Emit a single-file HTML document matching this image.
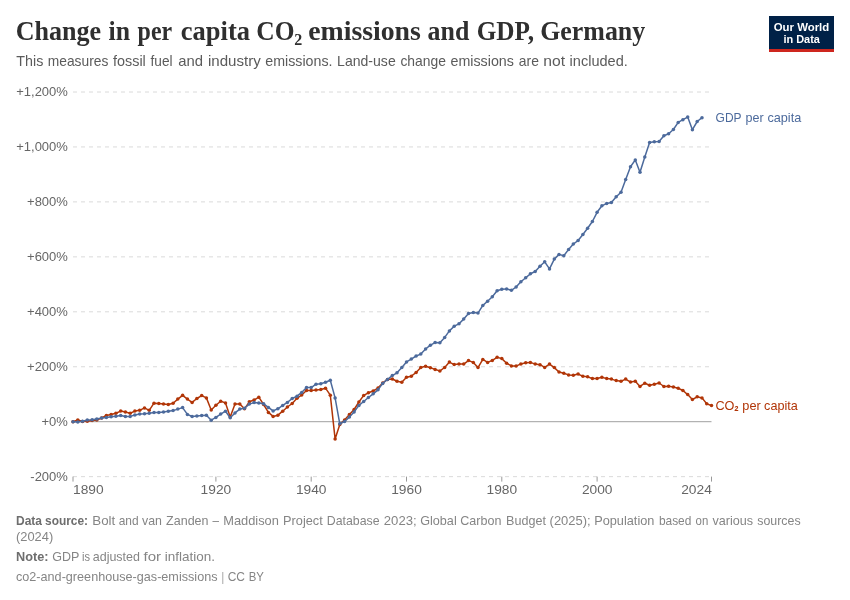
<!DOCTYPE html>
<html><head><meta charset="utf-8"><title>Change in per capita CO2 emissions and GDP, Germany</title>
<style>
html,body{margin:0;padding:0;background:#fff;}
body{width:850px;height:600px;overflow:hidden;position:relative;font-family:"Liberation Sans",sans-serif;}
svg{position:absolute;left:0;top:0;}
svg text{font-family:"Liberation Sans",sans-serif;}
svg text.title{font-family:"Liberation Serif",serif;font-weight:bold;font-size:28px;fill:#2f2f2f;}
.sub{font-size:14.8px;fill:#5b5b5b;}
.ax text{font-size:13px;fill:#666;}
.lg{font-size:13.5px;fill:#4c6a9c;}
.lc{font-size:13.5px;fill:#b13507;}
.foot{font-size:12.2px;fill:#858585;}
.foot .b{font-weight:bold;fill:#6e6e6e;}
</style></head><body>
<svg width="850" height="600" viewBox="0 0 850 600">
<rect width="850" height="600" fill="#fff"/>
<text class="title" y="40.1"><tspan x="15.7" textLength="85.4" lengthAdjust="spacingAndGlyphs">Change</tspan> <tspan x="108.6" textLength="21.5" lengthAdjust="spacingAndGlyphs">in</tspan> <tspan x="137.6" textLength="34.1" lengthAdjust="spacingAndGlyphs">per</tspan> <tspan x="180.8" textLength="69.2" lengthAdjust="spacingAndGlyphs">capita</tspan> <tspan x="256.3" textLength="38.2" lengthAdjust="spacingAndGlyphs">CO</tspan><tspan x="294.2" textLength="8.0" lengthAdjust="spacingAndGlyphs" dy="-0.8">₂</tspan> <tspan x="308.2" textLength="112.7" lengthAdjust="spacingAndGlyphs" dy="0.8">emissions</tspan> <tspan x="427.6" textLength="41.7" lengthAdjust="spacingAndGlyphs">and</tspan> <tspan x="476.7" textLength="57.3" lengthAdjust="spacingAndGlyphs">GDP,</tspan> <tspan x="540.2" textLength="105.0" lengthAdjust="spacingAndGlyphs">Germany</tspan></text>
<text class="sub" y="66.2"><tspan x="16.3" textLength="27.0" lengthAdjust="spacingAndGlyphs">This</tspan> <tspan x="47.8" textLength="60.5" lengthAdjust="spacingAndGlyphs">measures</tspan> <tspan x="113.0" textLength="32.8" lengthAdjust="spacingAndGlyphs">fossil</tspan> <tspan x="150.5" textLength="22.0" lengthAdjust="spacingAndGlyphs">fuel</tspan> <tspan x="178.3" textLength="24.8" lengthAdjust="spacingAndGlyphs">and</tspan> <tspan x="208.0" textLength="52.8" lengthAdjust="spacingAndGlyphs">industry</tspan> <tspan x="265.3" textLength="67.2" lengthAdjust="spacingAndGlyphs">emissions.</tspan> <tspan x="337.1" textLength="58.6" lengthAdjust="spacingAndGlyphs">Land-use</tspan> <tspan x="400.4" textLength="45.5" lengthAdjust="spacingAndGlyphs">change</tspan> <tspan x="450.5" textLength="63.4" lengthAdjust="spacingAndGlyphs">emissions</tspan> <tspan x="518.8" textLength="20.1" lengthAdjust="spacingAndGlyphs">are</tspan> <tspan x="543.3" textLength="21.8" lengthAdjust="spacingAndGlyphs">not</tspan> <tspan x="569.6" textLength="58.2" lengthAdjust="spacingAndGlyphs">included.</tspan></text>
<g id="logo">
<rect x="769" y="16" width="65" height="36" fill="#002147"/>
<rect x="769" y="49" width="65" height="3" fill="#ce261e"/>
<text x="801.5" y="30.6" text-anchor="middle" font-size="11.6" font-weight="bold" fill="#fff" textLength="55.5" lengthAdjust="spacingAndGlyphs">Our World</text>
<text x="801.7" y="42.8" text-anchor="middle" font-size="11.6" font-weight="bold" fill="#fff" textLength="36.5" lengthAdjust="spacingAndGlyphs">in Data</text>
</g>
<g class="ax">
<line x1="73" x2="711.5" y1="92.00" y2="92.00" stroke="#dadada" stroke-dasharray="4,4" stroke-width="1"/>
<line x1="73" x2="711.5" y1="146.95" y2="146.95" stroke="#dadada" stroke-dasharray="4,4" stroke-width="1"/>
<line x1="73" x2="711.5" y1="201.90" y2="201.90" stroke="#dadada" stroke-dasharray="4,4" stroke-width="1"/>
<line x1="73" x2="711.5" y1="256.85" y2="256.85" stroke="#dadada" stroke-dasharray="4,4" stroke-width="1"/>
<line x1="73" x2="711.5" y1="311.80" y2="311.80" stroke="#dadada" stroke-dasharray="4,4" stroke-width="1"/>
<line x1="73" x2="711.5" y1="366.75" y2="366.75" stroke="#dadada" stroke-dasharray="4,4" stroke-width="1"/>
<line x1="73" x2="711.5" y1="476.65" y2="476.65" stroke="#dadada" stroke-dasharray="4,4" stroke-width="1"/>

<line x1="73" x2="711.5" y1="421.7" y2="421.7" stroke="#a1a1a1" stroke-width="1"/>
<text x="67.9" y="96.3" text-anchor="end">+1,200%</text>
<text x="67.9" y="151.2" text-anchor="end">+1,000%</text>
<text x="67.9" y="206.2" text-anchor="end">+800%</text>
<text x="67.9" y="261.2" text-anchor="end">+600%</text>
<text x="67.9" y="316.1" text-anchor="end">+400%</text>
<text x="67.9" y="371.1" text-anchor="end">+200%</text>
<text x="67.9" y="480.9" text-anchor="end">-200%</text>
<text x="67.9" y="426.0" text-anchor="end">+0%</text>

<line x1="73.0" x2="73.0" y1="476.6" y2="481.6" stroke="#999" stroke-width="1"/><text x="73.0" y="494.4" font-size="13.4" text-anchor="start" textLength="30.6" lengthAdjust="spacingAndGlyphs">1890</text>
<line x1="215.9" x2="215.9" y1="476.6" y2="481.6" stroke="#999" stroke-width="1"/><text x="200.6" y="494.4" font-size="13.4" textLength="30.6" lengthAdjust="spacingAndGlyphs">1920</text>
<line x1="311.2" x2="311.2" y1="476.6" y2="481.6" stroke="#999" stroke-width="1"/><text x="295.9" y="494.4" font-size="13.4" textLength="30.6" lengthAdjust="spacingAndGlyphs">1940</text>
<line x1="406.5" x2="406.5" y1="476.6" y2="481.6" stroke="#999" stroke-width="1"/><text x="391.2" y="494.4" font-size="13.4" textLength="30.6" lengthAdjust="spacingAndGlyphs">1960</text>
<line x1="501.8" x2="501.8" y1="476.6" y2="481.6" stroke="#999" stroke-width="1"/><text x="486.5" y="494.4" font-size="13.4" textLength="30.6" lengthAdjust="spacingAndGlyphs">1980</text>
<line x1="597.1" x2="597.1" y1="476.6" y2="481.6" stroke="#999" stroke-width="1"/><text x="581.9" y="494.4" font-size="13.4" textLength="30.6" lengthAdjust="spacingAndGlyphs">2000</text>
<line x1="711.5" x2="711.5" y1="476.6" y2="481.6" stroke="#999" stroke-width="1"/><text x="681.2" y="494.4" font-size="13.4" textLength="30.6" lengthAdjust="spacingAndGlyphs">2024</text>

</g>
<g fill="none" stroke-width="1.5" stroke-linejoin="round">
<path d="M73.0,421.7 L77.8,420.0 L82.5,421.5 L87.3,421.2 L92.1,420.6 L96.8,420.0 L101.6,418.0 L106.4,415.4 L111.1,414.4 L115.9,413.2 L120.7,411.1 L125.4,412.1 L130.2,413.2 L134.9,411.1 L139.7,410.3 L144.5,407.9 L149.2,410.3 L154.0,403.2 L158.8,403.5 L163.5,404.0 L168.3,404.5 L173.1,403.3 L177.8,399.1 L182.6,395.3 L187.4,399.1 L192.1,402.4 L196.9,398.5 L201.7,395.6 L206.4,397.9 L211.2,410.0 L215.9,405.3 L220.7,401.2 L225.5,402.9 L230.2,417.0 L235.0,404.1 L239.8,403.9 L244.5,408.8 L249.3,401.8 L254.1,400.0 L258.8,397.2 L263.6,404.5 L268.4,412.4 L273.1,416.4 L277.9,415.2 L282.7,411.2 L287.4,407.0 L292.2,403.5 L297.0,398.3 L301.7,395.0 L306.5,390.5 L311.2,390.6 L316.0,390.1 L320.8,389.5 L325.5,388.2 L330.3,395.2 L335.1,438.9 L339.8,424.4 L344.6,419.9 L349.4,414.4 L354.1,409.5 L358.9,402.0 L363.7,395.4 L368.4,392.8 L373.2,391.0 L378.0,388.1 L382.7,383.0 L387.5,379.4 L392.3,379.0 L397.0,381.2 L401.8,382.2 L406.5,377.2 L411.3,376.2 L416.1,372.5 L420.8,367.5 L425.6,366.2 L430.4,367.8 L435.1,369.4 L439.9,371.0 L444.7,367.4 L449.4,362.1 L454.2,364.6 L459.0,363.9 L463.7,364.1 L468.5,360.6 L473.3,362.4 L478.0,367.6 L482.8,359.4 L487.6,362.4 L492.3,360.4 L497.1,357.3 L501.8,358.6 L506.6,363.2 L511.4,365.9 L516.1,366.1 L520.9,363.9 L525.7,362.7 L530.4,362.4 L535.2,364.1 L540.0,364.7 L544.7,367.4 L549.5,364.1 L554.3,367.6 L559.0,372.0 L563.8,373.3 L568.6,374.9 L573.3,375.3 L578.1,374.1 L582.9,376.2 L587.6,376.7 L592.4,378.6 L597.1,378.5 L601.9,377.3 L606.7,378.6 L611.4,379.1 L616.2,380.6 L621.0,381.2 L625.7,379.1 L630.5,382.1 L635.3,381.2 L640.0,386.4 L644.8,383.2 L649.6,385.2 L654.3,384.2 L659.1,383.0 L663.9,386.5 L668.6,386.3 L673.4,387.0 L678.2,388.3 L682.9,390.5 L687.7,394.6 L692.4,399.5 L697.2,396.8 L702.0,397.9 L706.7,403.8 L711.5,405.6" stroke="#b13507"/>
</g>
<g fill="#b13507"><circle cx="73.0" cy="421.7" r="1.75"/><circle cx="77.8" cy="420.0" r="1.75"/><circle cx="82.5" cy="421.5" r="1.75"/><circle cx="87.3" cy="421.2" r="1.75"/><circle cx="92.1" cy="420.6" r="1.75"/><circle cx="96.8" cy="420.0" r="1.75"/><circle cx="101.6" cy="418.0" r="1.75"/><circle cx="106.4" cy="415.4" r="1.75"/><circle cx="111.1" cy="414.4" r="1.75"/><circle cx="115.9" cy="413.2" r="1.75"/><circle cx="120.7" cy="411.1" r="1.75"/><circle cx="125.4" cy="412.1" r="1.75"/><circle cx="130.2" cy="413.2" r="1.75"/><circle cx="134.9" cy="411.1" r="1.75"/><circle cx="139.7" cy="410.3" r="1.75"/><circle cx="144.5" cy="407.9" r="1.75"/><circle cx="149.2" cy="410.3" r="1.75"/><circle cx="154.0" cy="403.2" r="1.75"/><circle cx="158.8" cy="403.5" r="1.75"/><circle cx="163.5" cy="404.0" r="1.75"/><circle cx="168.3" cy="404.5" r="1.75"/><circle cx="173.1" cy="403.3" r="1.75"/><circle cx="177.8" cy="399.1" r="1.75"/><circle cx="182.6" cy="395.3" r="1.75"/><circle cx="187.4" cy="399.1" r="1.75"/><circle cx="192.1" cy="402.4" r="1.75"/><circle cx="196.9" cy="398.5" r="1.75"/><circle cx="201.7" cy="395.6" r="1.75"/><circle cx="206.4" cy="397.9" r="1.75"/><circle cx="211.2" cy="410.0" r="1.75"/><circle cx="215.9" cy="405.3" r="1.75"/><circle cx="220.7" cy="401.2" r="1.75"/><circle cx="225.5" cy="402.9" r="1.75"/><circle cx="230.2" cy="417.0" r="1.75"/><circle cx="235.0" cy="404.1" r="1.75"/><circle cx="239.8" cy="403.9" r="1.75"/><circle cx="244.5" cy="408.8" r="1.75"/><circle cx="249.3" cy="401.8" r="1.75"/><circle cx="254.1" cy="400.0" r="1.75"/><circle cx="258.8" cy="397.2" r="1.75"/><circle cx="263.6" cy="404.5" r="1.75"/><circle cx="268.4" cy="412.4" r="1.75"/><circle cx="273.1" cy="416.4" r="1.75"/><circle cx="277.9" cy="415.2" r="1.75"/><circle cx="282.7" cy="411.2" r="1.75"/><circle cx="287.4" cy="407.0" r="1.75"/><circle cx="292.2" cy="403.5" r="1.75"/><circle cx="297.0" cy="398.3" r="1.75"/><circle cx="301.7" cy="395.0" r="1.75"/><circle cx="306.5" cy="390.5" r="1.75"/><circle cx="311.2" cy="390.6" r="1.75"/><circle cx="316.0" cy="390.1" r="1.75"/><circle cx="320.8" cy="389.5" r="1.75"/><circle cx="325.5" cy="388.2" r="1.75"/><circle cx="330.3" cy="395.2" r="1.75"/><circle cx="335.1" cy="438.9" r="1.75"/><circle cx="339.8" cy="424.4" r="1.75"/><circle cx="344.6" cy="419.9" r="1.75"/><circle cx="349.4" cy="414.4" r="1.75"/><circle cx="354.1" cy="409.5" r="1.75"/><circle cx="358.9" cy="402.0" r="1.75"/><circle cx="363.7" cy="395.4" r="1.75"/><circle cx="368.4" cy="392.8" r="1.75"/><circle cx="373.2" cy="391.0" r="1.75"/><circle cx="378.0" cy="388.1" r="1.75"/><circle cx="382.7" cy="383.0" r="1.75"/><circle cx="387.5" cy="379.4" r="1.75"/><circle cx="392.3" cy="379.0" r="1.75"/><circle cx="397.0" cy="381.2" r="1.75"/><circle cx="401.8" cy="382.2" r="1.75"/><circle cx="406.5" cy="377.2" r="1.75"/><circle cx="411.3" cy="376.2" r="1.75"/><circle cx="416.1" cy="372.5" r="1.75"/><circle cx="420.8" cy="367.5" r="1.75"/><circle cx="425.6" cy="366.2" r="1.75"/><circle cx="430.4" cy="367.8" r="1.75"/><circle cx="435.1" cy="369.4" r="1.75"/><circle cx="439.9" cy="371.0" r="1.75"/><circle cx="444.7" cy="367.4" r="1.75"/><circle cx="449.4" cy="362.1" r="1.75"/><circle cx="454.2" cy="364.6" r="1.75"/><circle cx="459.0" cy="363.9" r="1.75"/><circle cx="463.7" cy="364.1" r="1.75"/><circle cx="468.5" cy="360.6" r="1.75"/><circle cx="473.3" cy="362.4" r="1.75"/><circle cx="478.0" cy="367.6" r="1.75"/><circle cx="482.8" cy="359.4" r="1.75"/><circle cx="487.6" cy="362.4" r="1.75"/><circle cx="492.3" cy="360.4" r="1.75"/><circle cx="497.1" cy="357.3" r="1.75"/><circle cx="501.8" cy="358.6" r="1.75"/><circle cx="506.6" cy="363.2" r="1.75"/><circle cx="511.4" cy="365.9" r="1.75"/><circle cx="516.1" cy="366.1" r="1.75"/><circle cx="520.9" cy="363.9" r="1.75"/><circle cx="525.7" cy="362.7" r="1.75"/><circle cx="530.4" cy="362.4" r="1.75"/><circle cx="535.2" cy="364.1" r="1.75"/><circle cx="540.0" cy="364.7" r="1.75"/><circle cx="544.7" cy="367.4" r="1.75"/><circle cx="549.5" cy="364.1" r="1.75"/><circle cx="554.3" cy="367.6" r="1.75"/><circle cx="559.0" cy="372.0" r="1.75"/><circle cx="563.8" cy="373.3" r="1.75"/><circle cx="568.6" cy="374.9" r="1.75"/><circle cx="573.3" cy="375.3" r="1.75"/><circle cx="578.1" cy="374.1" r="1.75"/><circle cx="582.9" cy="376.2" r="1.75"/><circle cx="587.6" cy="376.7" r="1.75"/><circle cx="592.4" cy="378.6" r="1.75"/><circle cx="597.1" cy="378.5" r="1.75"/><circle cx="601.9" cy="377.3" r="1.75"/><circle cx="606.7" cy="378.6" r="1.75"/><circle cx="611.4" cy="379.1" r="1.75"/><circle cx="616.2" cy="380.6" r="1.75"/><circle cx="621.0" cy="381.2" r="1.75"/><circle cx="625.7" cy="379.1" r="1.75"/><circle cx="630.5" cy="382.1" r="1.75"/><circle cx="635.3" cy="381.2" r="1.75"/><circle cx="640.0" cy="386.4" r="1.75"/><circle cx="644.8" cy="383.2" r="1.75"/><circle cx="649.6" cy="385.2" r="1.75"/><circle cx="654.3" cy="384.2" r="1.75"/><circle cx="659.1" cy="383.0" r="1.75"/><circle cx="663.9" cy="386.5" r="1.75"/><circle cx="668.6" cy="386.3" r="1.75"/><circle cx="673.4" cy="387.0" r="1.75"/><circle cx="678.2" cy="388.3" r="1.75"/><circle cx="682.9" cy="390.5" r="1.75"/><circle cx="687.7" cy="394.6" r="1.75"/><circle cx="692.4" cy="399.5" r="1.75"/><circle cx="697.2" cy="396.8" r="1.75"/><circle cx="702.0" cy="397.9" r="1.75"/><circle cx="706.7" cy="403.8" r="1.75"/><circle cx="711.5" cy="405.6" r="1.75"/></g>
<g fill="none" stroke-width="1.5" stroke-linejoin="round">
<path d="M73.0,421.7 L77.8,421.9 L82.5,421.2 L87.3,420.1 L92.1,419.7 L96.8,418.9 L101.6,418.1 L106.4,417.4 L111.1,416.8 L115.9,416.2 L120.7,415.4 L125.4,416.5 L130.2,416.4 L134.9,415.0 L139.7,414.1 L144.5,413.7 L149.2,413.2 L154.0,412.5 L158.8,412.4 L163.5,412.0 L168.3,411.2 L173.1,410.6 L177.8,409.1 L182.6,407.6 L187.4,414.4 L192.1,416.5 L196.9,415.9 L201.7,415.5 L206.4,415.3 L211.2,420.2 L215.9,417.4 L220.7,414.1 L225.5,411.2 L230.2,417.8 L235.0,412.9 L239.8,409.1 L244.5,408.2 L249.3,404.1 L254.1,402.6 L258.8,403.1 L263.6,403.8 L268.4,407.4 L273.1,410.9 L277.9,408.8 L282.7,405.4 L287.4,402.4 L292.2,398.5 L297.0,396.2 L301.7,392.4 L306.5,387.4 L311.2,387.6 L316.0,384.2 L320.8,383.8 L325.5,382.3 L330.3,380.3 L335.1,397.9 L339.8,423.8 L344.6,421.5 L349.4,417.1 L354.1,412.0 L358.9,405.4 L363.7,401.5 L368.4,397.5 L373.2,393.8 L378.0,389.8 L382.7,383.4 L387.5,379.4 L392.3,375.6 L397.0,372.8 L401.8,367.5 L406.5,361.9 L411.3,359.1 L416.1,356.0 L420.8,354.1 L425.6,349.0 L430.4,345.2 L435.1,342.6 L439.9,342.7 L444.7,337.4 L449.4,330.9 L454.2,326.2 L459.0,323.8 L463.7,319.1 L468.5,313.6 L473.3,312.4 L478.0,313.1 L482.8,305.4 L487.6,301.2 L492.3,296.8 L497.1,290.8 L501.8,289.2 L506.6,288.9 L511.4,290.3 L516.1,287.0 L520.9,281.8 L525.7,277.7 L530.4,273.8 L535.2,271.5 L540.0,266.2 L544.7,261.8 L549.5,268.9 L554.3,259.1 L559.0,254.4 L563.8,255.8 L568.6,249.4 L573.3,244.1 L578.1,240.5 L582.9,234.5 L587.6,228.3 L592.4,221.5 L597.1,212.3 L601.9,205.8 L606.7,203.4 L611.4,202.6 L616.2,196.8 L621.0,192.3 L625.7,179.4 L630.5,166.8 L635.3,159.9 L640.0,172.3 L644.8,157.1 L649.6,142.4 L654.3,141.8 L659.1,141.5 L663.9,135.8 L668.6,133.8 L673.4,129.5 L678.2,122.4 L682.9,119.7 L687.7,117.1 L692.4,129.7 L697.2,121.5 L702.0,117.7" stroke="#4c6a9c"/>
</g>
<g fill="#4c6a9c"><circle cx="73.0" cy="421.7" r="1.75"/><circle cx="77.8" cy="421.9" r="1.75"/><circle cx="82.5" cy="421.2" r="1.75"/><circle cx="87.3" cy="420.1" r="1.75"/><circle cx="92.1" cy="419.7" r="1.75"/><circle cx="96.8" cy="418.9" r="1.75"/><circle cx="101.6" cy="418.1" r="1.75"/><circle cx="106.4" cy="417.4" r="1.75"/><circle cx="111.1" cy="416.8" r="1.75"/><circle cx="115.9" cy="416.2" r="1.75"/><circle cx="120.7" cy="415.4" r="1.75"/><circle cx="125.4" cy="416.5" r="1.75"/><circle cx="130.2" cy="416.4" r="1.75"/><circle cx="134.9" cy="415.0" r="1.75"/><circle cx="139.7" cy="414.1" r="1.75"/><circle cx="144.5" cy="413.7" r="1.75"/><circle cx="149.2" cy="413.2" r="1.75"/><circle cx="154.0" cy="412.5" r="1.75"/><circle cx="158.8" cy="412.4" r="1.75"/><circle cx="163.5" cy="412.0" r="1.75"/><circle cx="168.3" cy="411.2" r="1.75"/><circle cx="173.1" cy="410.6" r="1.75"/><circle cx="177.8" cy="409.1" r="1.75"/><circle cx="182.6" cy="407.6" r="1.75"/><circle cx="187.4" cy="414.4" r="1.75"/><circle cx="192.1" cy="416.5" r="1.75"/><circle cx="196.9" cy="415.9" r="1.75"/><circle cx="201.7" cy="415.5" r="1.75"/><circle cx="206.4" cy="415.3" r="1.75"/><circle cx="211.2" cy="420.2" r="1.75"/><circle cx="215.9" cy="417.4" r="1.75"/><circle cx="220.7" cy="414.1" r="1.75"/><circle cx="225.5" cy="411.2" r="1.75"/><circle cx="230.2" cy="417.8" r="1.75"/><circle cx="235.0" cy="412.9" r="1.75"/><circle cx="239.8" cy="409.1" r="1.75"/><circle cx="244.5" cy="408.2" r="1.75"/><circle cx="249.3" cy="404.1" r="1.75"/><circle cx="254.1" cy="402.6" r="1.75"/><circle cx="258.8" cy="403.1" r="1.75"/><circle cx="263.6" cy="403.8" r="1.75"/><circle cx="268.4" cy="407.4" r="1.75"/><circle cx="273.1" cy="410.9" r="1.75"/><circle cx="277.9" cy="408.8" r="1.75"/><circle cx="282.7" cy="405.4" r="1.75"/><circle cx="287.4" cy="402.4" r="1.75"/><circle cx="292.2" cy="398.5" r="1.75"/><circle cx="297.0" cy="396.2" r="1.75"/><circle cx="301.7" cy="392.4" r="1.75"/><circle cx="306.5" cy="387.4" r="1.75"/><circle cx="311.2" cy="387.6" r="1.75"/><circle cx="316.0" cy="384.2" r="1.75"/><circle cx="320.8" cy="383.8" r="1.75"/><circle cx="325.5" cy="382.3" r="1.75"/><circle cx="330.3" cy="380.3" r="1.75"/><circle cx="335.1" cy="397.9" r="1.75"/><circle cx="339.8" cy="423.8" r="1.75"/><circle cx="344.6" cy="421.5" r="1.75"/><circle cx="349.4" cy="417.1" r="1.75"/><circle cx="354.1" cy="412.0" r="1.75"/><circle cx="358.9" cy="405.4" r="1.75"/><circle cx="363.7" cy="401.5" r="1.75"/><circle cx="368.4" cy="397.5" r="1.75"/><circle cx="373.2" cy="393.8" r="1.75"/><circle cx="378.0" cy="389.8" r="1.75"/><circle cx="382.7" cy="383.4" r="1.75"/><circle cx="387.5" cy="379.4" r="1.75"/><circle cx="392.3" cy="375.6" r="1.75"/><circle cx="397.0" cy="372.8" r="1.75"/><circle cx="401.8" cy="367.5" r="1.75"/><circle cx="406.5" cy="361.9" r="1.75"/><circle cx="411.3" cy="359.1" r="1.75"/><circle cx="416.1" cy="356.0" r="1.75"/><circle cx="420.8" cy="354.1" r="1.75"/><circle cx="425.6" cy="349.0" r="1.75"/><circle cx="430.4" cy="345.2" r="1.75"/><circle cx="435.1" cy="342.6" r="1.75"/><circle cx="439.9" cy="342.7" r="1.75"/><circle cx="444.7" cy="337.4" r="1.75"/><circle cx="449.4" cy="330.9" r="1.75"/><circle cx="454.2" cy="326.2" r="1.75"/><circle cx="459.0" cy="323.8" r="1.75"/><circle cx="463.7" cy="319.1" r="1.75"/><circle cx="468.5" cy="313.6" r="1.75"/><circle cx="473.3" cy="312.4" r="1.75"/><circle cx="478.0" cy="313.1" r="1.75"/><circle cx="482.8" cy="305.4" r="1.75"/><circle cx="487.6" cy="301.2" r="1.75"/><circle cx="492.3" cy="296.8" r="1.75"/><circle cx="497.1" cy="290.8" r="1.75"/><circle cx="501.8" cy="289.2" r="1.75"/><circle cx="506.6" cy="288.9" r="1.75"/><circle cx="511.4" cy="290.3" r="1.75"/><circle cx="516.1" cy="287.0" r="1.75"/><circle cx="520.9" cy="281.8" r="1.75"/><circle cx="525.7" cy="277.7" r="1.75"/><circle cx="530.4" cy="273.8" r="1.75"/><circle cx="535.2" cy="271.5" r="1.75"/><circle cx="540.0" cy="266.2" r="1.75"/><circle cx="544.7" cy="261.8" r="1.75"/><circle cx="549.5" cy="268.9" r="1.75"/><circle cx="554.3" cy="259.1" r="1.75"/><circle cx="559.0" cy="254.4" r="1.75"/><circle cx="563.8" cy="255.8" r="1.75"/><circle cx="568.6" cy="249.4" r="1.75"/><circle cx="573.3" cy="244.1" r="1.75"/><circle cx="578.1" cy="240.5" r="1.75"/><circle cx="582.9" cy="234.5" r="1.75"/><circle cx="587.6" cy="228.3" r="1.75"/><circle cx="592.4" cy="221.5" r="1.75"/><circle cx="597.1" cy="212.3" r="1.75"/><circle cx="601.9" cy="205.8" r="1.75"/><circle cx="606.7" cy="203.4" r="1.75"/><circle cx="611.4" cy="202.6" r="1.75"/><circle cx="616.2" cy="196.8" r="1.75"/><circle cx="621.0" cy="192.3" r="1.75"/><circle cx="625.7" cy="179.4" r="1.75"/><circle cx="630.5" cy="166.8" r="1.75"/><circle cx="635.3" cy="159.9" r="1.75"/><circle cx="640.0" cy="172.3" r="1.75"/><circle cx="644.8" cy="157.1" r="1.75"/><circle cx="649.6" cy="142.4" r="1.75"/><circle cx="654.3" cy="141.8" r="1.75"/><circle cx="659.1" cy="141.5" r="1.75"/><circle cx="663.9" cy="135.8" r="1.75"/><circle cx="668.6" cy="133.8" r="1.75"/><circle cx="673.4" cy="129.5" r="1.75"/><circle cx="678.2" cy="122.4" r="1.75"/><circle cx="682.9" cy="119.7" r="1.75"/><circle cx="687.7" cy="117.1" r="1.75"/><circle cx="692.4" cy="129.7" r="1.75"/><circle cx="697.2" cy="121.5" r="1.75"/><circle cx="702.0" cy="117.7" r="1.75"/></g>
<text class="lg" y="122.3"><tspan x="715.6" textLength="25.7" lengthAdjust="spacingAndGlyphs">GDP</tspan> <tspan x="745.6" textLength="18.1" lengthAdjust="spacingAndGlyphs">per</tspan> <tspan x="767.4" textLength="33.9" lengthAdjust="spacingAndGlyphs">capita</tspan></text>
<text class="lc" y="410.3"><tspan x="715.4" textLength="19.0" lengthAdjust="spacingAndGlyphs">CO</tspan><tspan x="734.1" textLength="4.8" lengthAdjust="spacingAndGlyphs" font-weight="bold" font-size="15.5" dy="0.6">₂</tspan> <tspan x="742.3" textLength="18.4" lengthAdjust="spacingAndGlyphs" dy="-0.6">per</tspan> <tspan x="764.1" textLength="33.7" lengthAdjust="spacingAndGlyphs">capita</tspan></text>
<text class="foot" y="524.8"><tspan x="16.0" textLength="26.0" lengthAdjust="spacingAndGlyphs" class="b">Data</tspan> <tspan x="45.0" textLength="43.1" lengthAdjust="spacingAndGlyphs" class="b">source:</tspan> <tspan x="92.3" textLength="23.0" lengthAdjust="spacingAndGlyphs">Bolt</tspan> <tspan x="118.7" textLength="19.9" lengthAdjust="spacingAndGlyphs">and</tspan> <tspan x="142.0" textLength="19.9" lengthAdjust="spacingAndGlyphs">van</tspan> <tspan x="166.1" textLength="42.4" lengthAdjust="spacingAndGlyphs">Zanden</tspan> <tspan x="212.5" textLength="6.5" lengthAdjust="spacingAndGlyphs">–</tspan> <tspan x="223.2" textLength="55.7" lengthAdjust="spacingAndGlyphs">Maddison</tspan> <tspan x="283.1" textLength="39.6" lengthAdjust="spacingAndGlyphs">Project</tspan> <tspan x="326.8" textLength="52.8" lengthAdjust="spacingAndGlyphs">Database</tspan> <tspan x="383.8" textLength="32.8" lengthAdjust="spacingAndGlyphs">2023;</tspan> <tspan x="420.2" textLength="36.5" lengthAdjust="spacingAndGlyphs">Global</tspan> <tspan x="460.3" textLength="41.1" lengthAdjust="spacingAndGlyphs">Carbon</tspan> <tspan x="506.1" textLength="39.8" lengthAdjust="spacingAndGlyphs">Budget</tspan> <tspan x="549.6" textLength="41.1" lengthAdjust="spacingAndGlyphs">(2025);</tspan> <tspan x="594.2" textLength="60.2" lengthAdjust="spacingAndGlyphs">Population</tspan> <tspan x="658.9" textLength="32.5" lengthAdjust="spacingAndGlyphs">based</tspan> <tspan x="695.6" textLength="12.7" lengthAdjust="spacingAndGlyphs">on</tspan> <tspan x="712.4" textLength="40.6" lengthAdjust="spacingAndGlyphs">various</tspan> <tspan x="757.2" textLength="43.4" lengthAdjust="spacingAndGlyphs">sources</tspan></text>
<text class="foot" y="541"><tspan x="16.0" textLength="37.2" lengthAdjust="spacingAndGlyphs">(2024)</tspan></text>
<text class="foot" y="560.6"><tspan x="16.0" textLength="32.5" lengthAdjust="spacingAndGlyphs" class="b">Note:</tspan> <tspan x="52.2" textLength="26.9" lengthAdjust="spacingAndGlyphs">GDP</tspan> <tspan x="82.0" textLength="8.0" lengthAdjust="spacingAndGlyphs">is</tspan> <tspan x="92.8" textLength="47.1" lengthAdjust="spacingAndGlyphs">adjusted</tspan> <tspan x="143.5" textLength="17.6" lengthAdjust="spacingAndGlyphs">for</tspan> <tspan x="164.8" textLength="50.2" lengthAdjust="spacingAndGlyphs">inflation.</tspan></text>
<text class="foot" y="580.5"><tspan x="16.0" textLength="201.5" lengthAdjust="spacingAndGlyphs">co2-and-greenhouse-gas-emissions</tspan> <tspan x="221.7" textLength="2.2" lengthAdjust="spacingAndGlyphs">|</tspan> <tspan x="227.7" textLength="17.3" lengthAdjust="spacingAndGlyphs">CC</tspan> <tspan x="248.7" textLength="15.2" lengthAdjust="spacingAndGlyphs">BY</tspan></text>
</svg>
</body></html>
